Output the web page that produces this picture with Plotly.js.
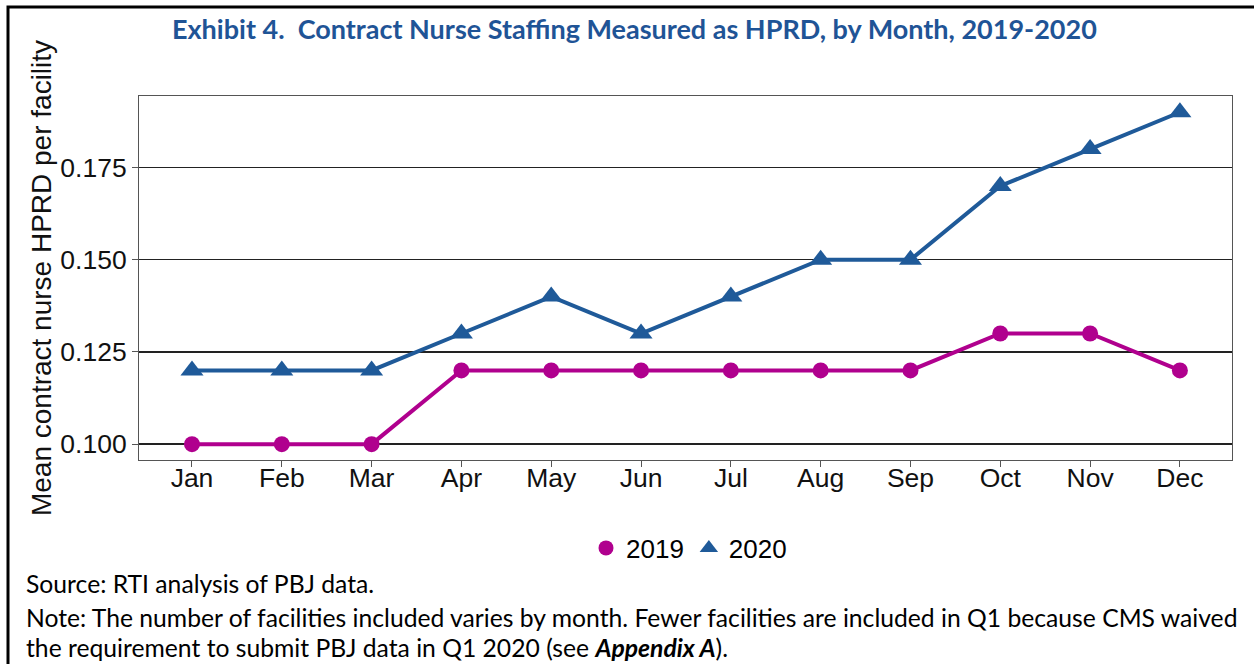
<!DOCTYPE html>
<html>
<head>
<meta charset="utf-8">
<script src="https://cdn.plot.ly/plotly-3.0.1.min.js"></script>
<style>html,body{margin:0;padding:0;background:#fff;}#chart{width:1254px;height:664px;}</style>
</head>
<body>
<div id="chart"></div>
<script>
var months = ["Jan","Feb","Mar","Apr","May","Jun","Jul","Aug","Sep","Oct","Nov","Dec"];
var values2019 = [0.10,0.10,0.10,0.12,0.12,0.12,0.12,0.12,0.12,0.13,0.13,0.12];
var values2020 = [0.12,0.12,0.12,0.13,0.14,0.13,0.14,0.15,0.15,0.17,0.18,0.19];
var yTicks = [0.100,0.125,0.150,0.175];
var yTickLabels = ["0.100","0.125","0.150","0.175"];

var L=139, R=1232, T=96, B=460, W=1254, H=664;
function px(x){return (x-L)/(R-L);}
function py(y){return (B-y)/(B-T);}

var c2019 = "#B0008E", c2020 = "#1F5A99";
var traces = [
  {x: months, y: values2019, name: "2019", type: "scatter", mode: "lines+markers", showlegend: false,
   line: {color: c2019, width: 4}, marker: {symbol: "circle", size: 16, color: c2019}},
  {x: months, y: values2020, name: "2020", type: "scatter", mode: "lines+markers", showlegend: false,
   line: {color: c2020, width: 4}, marker: {symbol: "triangle-up", size: 20, color: c2020}},
  {x: [null], y: [null], name: "2019", type: "scatter", mode: "markers", showlegend: true,
   marker: {symbol: "circle", size: 15, color: c2019}},
  {x: [null], y: [null], name: "2020", type: "scatter", mode: "markers", showlegend: true,
   marker: {symbol: "triangle-up", size: 18, color: c2020}}
];

var tickFont = {family: "Liberation Sans, Arial, sans-serif", size: 26.5, color: "#111"};
var noteFont = {family: "Lato, 'Open Sans', sans-serif", size: 24.7, color: "#000"};
var layout = {
  width: W, height: H,
  margin: {l: L, r: W-R, t: T, b: H-B, pad: 0},
  paper_bgcolor: "#fff", plot_bgcolor: "#fff",
  showlegend: true,
  legend: {orientation: "h", x: px(689), xanchor: "center", y: py(548), yanchor: "middle",
           font: {family: "Liberation Sans, Arial, sans-serif", size: 26, color: "#000"},
           itemwidth: 30, tracegroupgap: 0, itemsizing: "trace"},
  xaxis: {type: "category", range: [-0.59, 11.58], showgrid: false, zeroline: false,
          ticks: "outside", ticklen: 6, tickcolor: "#555", tickwidth: 1,
          showline: true, linecolor: "#555", linewidth: 1, mirror: true,
          ticklabelstandoff: -12, tickfont: tickFont},
  yaxis: {range: [0.0957, 0.1944], tickvals: yTicks, ticktext: yTickLabels,
          showgrid: true, gridcolor: "#222", gridwidth: 1.3, zeroline: false,
          ticks: "outside", ticklen: 6, tickcolor: "#555", tickwidth: 1,
          showline: true, linecolor: "#555", linewidth: 1, mirror: true,
          tickfont: tickFont,
          title: {text: "Mean contract nurse HPRD per facility", standoff: 0,
                  font: {family: "Liberation Sans, Arial, sans-serif", size: 28, color: "#111"}}},
  annotations: [
    {xref: "paper", yref: "paper", x: px(634), y: py(28), xanchor: "center", yanchor: "middle",
     showarrow: false, text: "<b>Exhibit 4.  Contract Nurse Staffing Measured as HPRD, by Month, 2019-2020</b>",
     font: {family: "Lato, 'Open Sans', sans-serif", size: 27, color: "#1F5496"}},
    {xref: "paper", yref: "paper", x: px(24), y: py(583), xanchor: "left", yanchor: "middle",
     showarrow: false, text: "Source: RTI analysis of PBJ data.", font: noteFont},
    {xref: "paper", yref: "paper", x: px(24), y: py(617), xanchor: "left", yanchor: "middle",
     showarrow: false, text: "Note: The number of facilities included varies by month. Fewer facilities are included in Q1 because CMS waived", font: noteFont},
    {xref: "paper", yref: "paper", x: px(24), y: py(647), xanchor: "left", yanchor: "middle",
     showarrow: false, text: "the requirement to submit PBJ data in Q1 2020 (see <b><i>Appendix A</i></b>).", font: noteFont}
  ],
  shapes: [
    {type: "rect", xref: "paper", yref: "paper", x0: px(8), x1: px(1300), y0: py(700), y1: py(7),
     line: {color: "#000", width: 3}, fillcolor: "rgba(0,0,0,0)", layer: "above"}
  ]
};

Plotly.newPlot("chart", traces, layout, {displayModeBar: false, staticPlot: true});
</script>
</body>
</html>
